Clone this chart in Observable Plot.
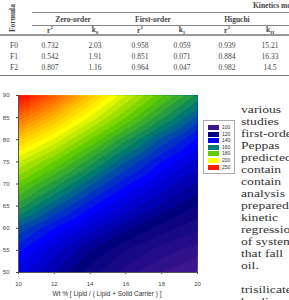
<!DOCTYPE html>
<html><head><meta charset="utf-8">
<script src="https://cdn.jsdelivr.net/npm/d3@7"></script>
<script src="https://cdn.jsdelivr.net/npm/@observablehq/plot@0.6"></script>
<style>
html,body{margin:0;padding:0;background:#fff;}
#page{position:relative;width:289px;height:300px;overflow:hidden;font-family:"Liberation Serif","Times New Roman",serif;color:#444;}
.c{position:absolute;transform:translate(-50%,-50%);white-space:nowrap;font-size:7.5px;}
.b{font-weight:bold;}
.hl{position:absolute;height:0;border-top:1px solid #888;}
#chart{position:absolute;left:0;top:85px;}
#xlabel{position:absolute;left:107px;top:293px;transform:translate(-50%,-50%);font-family:"Liberation Sans",Arial,sans-serif;font-size:6.5px;color:#333;white-space:nowrap;}
#legend{position:absolute;left:203px;top:120px;width:32px;height:54px;border:1px solid #aaa;background:#fff;box-sizing:border-box;}
.sw{position:absolute;left:4px;width:11px;height:5px;}
.lt{position:absolute;left:18px;font-family:"Liberation Sans",Arial,sans-serif;font-size:5px;color:#333;line-height:5px;}
#text{position:absolute;left:241px;top:104px;width:48px;height:196px;overflow:hidden;font-size:10.5px;line-height:12px;color:#333;}
#text div{white-space:nowrap;height:12px;transform:scaleX(1.3);transform-origin:0 50%;}
</style></head>
<body><div id="page"></div>
<script>
// ---- table data ----
const formulas = ["F0","F1","F2"];
const zeroR2 = ["0.732","0.542","0.807"];
const zeroK = ["2.03","1.91","1.16"];
const firstR2 = ["0.958","0.851","0.964"];
const firstK = ["0.059","0.071","0.047"];
const higR2 = ["0.939","0.884","0.982"];
const higK = ["15.21","16.33","14.5"];
const groupNames = ["Zero-order","First-order","Higuchi"];

// ---- contour data ----
const gridX = [10,12,14,16,18,20];
const gridY = [90,85,80,75,70,65,60,55,50];
const response = [
  [258,238,215,196,181,167],
  [235,217,199,184,169,155],
  [213,199,184,169,155,143],
  [196,184,170,156,144,134],
  [183,170,157,145,135,127],
  [170,157,145,135,127,120],
  [155,144,134,125,118,113],
  [145,134,124,116,110,106],
  [138,128,118,110,104,99]
];
const legendValues = [100,120,140,160,180,200,250];
const legendColors = ["#3b168c","#00007f","#0000ff","#007a70","#5fcc00","#ffff00","#ff1a00"];
const xTicks = [10,12,14,16,18,20];
const yTicks = [50,55,60,65,70,75,80,85,90];

// ---- side text ----
const sideText = ["various","studies","first-order","Peppas","predicted","contain","contain","analysis","prepared","kinetic","regression","of system","that fall","oil.","","trisilicate","by dis"];

const page = document.getElementById("page");
function cell(txt, x, y, cls){
  const d = document.createElement("div");
  d.className = "c " + (cls||"");
  d.innerHTML = txt;
  d.style.left = x + "px"; d.style.top = y + "px";
  page.appendChild(d); return d;
}
function hline(x1, x2, y, w, col){
  const d = document.createElement("div");
  d.className = "hl";
  d.style.left = x1 + "px"; d.style.width = (x2-x1) + "px"; d.style.top = y + "px";
  d.style.borderTop = (w||1) + "px solid " + (col||"#888");
  page.appendChild(d);
}
// Table header
const f = cell("Formula", 12, 18, "b");
f.style.transform = "translate(-50%,-50%) rotate(-90deg)";
const k = document.createElement("div");
k.className = "c b"; k.textContent = "Kinetics models";
k.style.transform = "translate(0,-50%)"; k.style.left = "253px"; k.style.top = "5px";
page.appendChild(k);
hline(32, 289, 12);
const groupX = [73,153,237];
groupNames.forEach((g,i)=>cell(g, groupX[i], 19, "b"));
hline(32, 289, 25);
const colX = [50,95,140,182,227,270];
const subH = ["r<sup style='font-size:5px'>2</sup>","k<sub style='font-size:5px'>0</sub>","r<sup style='font-size:5px'>2</sup>","k<sub style='font-size:5px'>1</sub>","r<sup style='font-size:5px'>2</sup>","k<sub style='font-size:5px'>H</sub>"];
subH.forEach((h,i)=>cell(h, colX[i], 30, "b"));
hline(0, 289, 34, 2, "#999");
const cols = [zeroR2, zeroK, firstR2, firstK, higR2, higK];
const rowY = [45,56,67];
formulas.forEach((fm,r)=>{
  cell(fm, 14, rowY[r]);
  cols.forEach((c,i)=>cell(c[r], colX[i], rowY[r]));
});
hline(0, 289, 75, 1.5, "#777");

// Chart
const points = [];
gridY.forEach((y,r)=>gridX.forEach((x,c)=>points.push({x, y, v: response[r][c]})));
const chart = Plot.plot({
  width: 205, height: 202,
  marginLeft: 18, marginRight: 8, marginTop: 10, marginBottom: 15,
  style: {fontFamily: "Liberation Sans, Arial, sans-serif", fontSize: "6px", color: "#444", background: "transparent"},
  x: {domain: [10,20], ticks: xTicks, tickSize: 2, label: null},
  y: {domain: [50,90], ticks: yTicks, tickSize: 2, label: null},
  color: {type: "linear", domain: legendValues, range: legendColors, interpolate: "rgb"},
  marks: [
    Plot.contour(points, {x: "x", y: "y", fill: "v", interpolate: "barycentric", thresholds: d3.range(92, 272, 4), stroke: "none", pixelSize: 1}),
    Plot.ruleX([10], {stroke: "#555"}),
    Plot.ruleY([50], {stroke: "#555"})
  ]
});
chart.id = "chart";
page.appendChild(chart);

const xl = document.createElement("div");
xl.id = "xlabel";
xl.textContent = "Wt % [ Lipid  / ( Lipid + Solid Carrier ) ]";
page.appendChild(xl);

// Legend
const lg = document.createElement("div");
lg.id = "legend";
legendValues.forEach((v,i)=>{
  const s = document.createElement("div");
  s.className = "sw"; s.style.top = (4 + i*6.6) + "px"; s.style.background = legendColors[i];
  lg.appendChild(s);
  const t = document.createElement("div");
  t.className = "lt"; t.style.top = (4 + i*6.6) + "px"; t.textContent = v;
  lg.appendChild(t);
});
page.appendChild(lg);

// side text
const tx = document.createElement("div");
tx.id = "text";
sideText.forEach(s=>{const d=document.createElement("div"); d.textContent = s || "\u00a0"; tx.appendChild(d);});
page.appendChild(tx);
</script></body></html>
